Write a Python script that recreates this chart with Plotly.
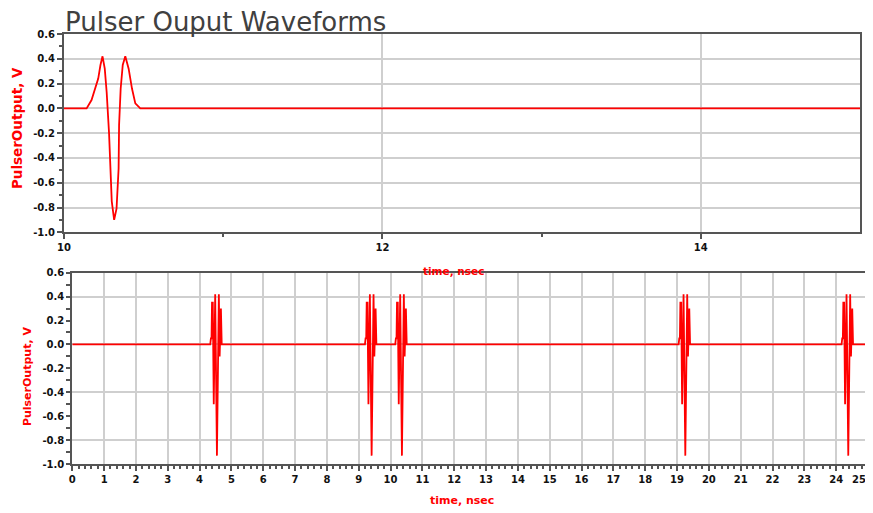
import plotly.graph_objects as go

# ---- data ----
top_time = [10.0, 10.142, 10.173, 10.194, 10.215, 10.229, 10.242, 10.256, 10.268, 10.283,
            10.29, 10.30, 10.315, 10.33, 10.343, 10.346, 10.356, 10.369, 10.385, 10.406,
            10.427, 10.448, 10.479, 15.0]
top_volts = [0.0, 0.0, 0.067, 0.148, 0.24, 0.35, 0.42, 0.32, 0.13, -0.2,
             -0.51, -0.75, -0.90, -0.81, -0.485, -0.135, 0.16, 0.35, 0.42, 0.32,
             0.16, 0.04, 0.0, 0.0]

pulse_centers = [4.545, 9.405, 10.357, 19.26, 24.38]
pulse_offsets = [-0.25, -0.21, -0.19, -0.17, -0.155, -0.13, -0.10, -0.075, -0.055, 0.0,
                 0.04, 0.06, 0.085, 0.11, 0.125, 0.15, 0.2]
pulse_volts = [0.0, 0.0, 0.05, 0.05, 0.35, 0.35, -0.5, 0.42, 0.42, -0.93,
               0.42, 0.42, -0.1, 0.3, 0.3, 0.0, 0.0]

bottom_start, bottom_end = 0.0, 25.0

y_tick_vals = [0.6, 0.4, 0.2, 0.0, -0.2, -0.4, -0.6, -0.8, -1.0]
y_tick_text = ["0.6", "0.4", "0.2", "0.0", "-0.2", "-0.4", "-0.6", "-0.8", "-1.0"]
bottom_y_tick_vals = [0.6, 0.5, 0.4, 0.3, 0.2, 0.1, 0.0, -0.1, -0.2, -0.3, -0.4,
                      -0.5, -0.6, -0.7, -0.8, -0.9, -1.0]
bottom_y_tick_text = ["0.6", "", "0.4", "", "0.2", "", "0.0", "", "-0.2", "", "-0.4",
                      "", "-0.6", "", "-0.8", "", "-1.0"]
bottom_y_grid_vals = [0.4, 0.0, -0.4, -0.8]
top_x_vals = [10, 12, 14]
top_x_text = ["10", "12", "14"]
bottom_x_vals = list(range(0, 26))
bottom_x_text = [str(v) for v in bottom_x_vals]

# build the bottom series from the pulse shape placed at each pulse time
bot_time = [bottom_start]
bot_volts = [0.0]
for c in pulse_centers:
    for o, v in zip(pulse_offsets, pulse_volts):
        bot_time.append(round(c + o, 4))
        bot_volts.append(v)
bot_time.append(bottom_end)
bot_volts.append(0.0)

RED = "#ff0000"
GRID = "#cfcfcf"
BORDER = "#555555"
FONT = "DejaVu Sans"
tickfont = dict(family=FONT, size=10, color="#111111", weight="bold")

fig = go.Figure()
fig.add_trace(go.Scatter(x=top_time, y=top_volts, mode="lines",
                         line=dict(color=RED, width=1.8), xaxis="x", yaxis="y",
                         showlegend=False, hoverinfo="skip"))
fig.add_trace(go.Scatter(x=bot_time, y=bot_volts, mode="lines",
                         line=dict(color=RED, width=1.8), xaxis="x2", yaxis="y2",
                         showlegend=False, hoverinfo="skip"))

# the page body adds an 8px margin; figure coords = page coords - 8
OFF = 8
W, H = 865, 505
L, R, T, B = 64 - OFF, 3, 34 - OFF, 49
pw, ph = W - L - R, H - T - B


def px_x(p):
    return (p - OFF - L) / pw


def px_y(p):
    return (H - B - (p - OFF)) / ph


def axis(**kw):
    base = dict(showline=True, linecolor=BORDER, linewidth=2, mirror=True,
                zeroline=False, tickfont=tickfont, ticks="outside",
                tickcolor=BORDER, ticklen=5, tickwidth=1.5,
                gridcolor=GRID, gridwidth=1.5)
    base.update(kw)
    return base


fig.update_layout(
    width=W, height=H,
    margin=dict(l=L, r=R, t=T, b=B),
    paper_bgcolor="white", plot_bgcolor="white",
    title=dict(text="Pulser Ouput Waveforms", x=(65 - OFF) / W, xref="container",
               xanchor="left", y=1 - (22 - OFF) / H, yref="container", yanchor="middle",
               font=dict(family=FONT, size=26, color="#404040")),
    xaxis=axis(domain=[0, px_x(862)], range=[10, 15], anchor="y",
               tickmode="array", tickvals=top_x_vals, ticktext=top_x_text, showgrid=True,
               minor=dict(tickmode="array", tickvals=[11, 13], ticks="outside", ticklen=3,
                          tickcolor=BORDER, showgrid=False)),
    yaxis=axis(domain=[px_y(232.3), 1], range=[-1.0, 0.6], anchor="x",
               tickmode="array", tickvals=y_tick_vals, ticktext=y_tick_text, showgrid=True,
               minor=dict(dtick=0.1, tick0=0, ticks="outside", ticklen=3,
                          tickcolor=BORDER, showgrid=False)),
    xaxis2=axis(domain=[px_x(72.3), 1], range=[0, 25], anchor="y2",
                tickmode="array", tickvals=bottom_x_vals, ticktext=bottom_x_text,
                showgrid=True,
                minor=dict(dtick=0.2, tick0=0, ticks="outside", ticklen=3,
                           tickcolor=BORDER, showgrid=False)),
    yaxis2=axis(domain=[0, px_y(272.7)], range=[-1.0, 0.6], anchor="x2",
                tickmode="array", tickvals=bottom_y_tick_vals, ticktext=bottom_y_tick_text,
                showgrid=False, ticklen=4,
                minor=dict(tickmode="array", tickvals=bottom_y_grid_vals, ticks="",
                           showgrid=True, gridcolor=GRID, gridwidth=1.5)),
)

title_font_small = dict(family=FONT, color=RED, weight="bold")
ann = dict(xref="paper", yref="paper", showarrow=False, xanchor="center", yanchor="middle")
fig.add_annotation(text="PulserOutput, V", x=px_x(17), y=px_y(128), textangle=-90,
                   font=dict(title_font_small, size=13.5), **ann)
fig.add_annotation(text="PulserOutput, V", x=px_x(27), y=px_y(376), textangle=-90,
                   font=dict(title_font_small, size=11), **ann)
fig.add_annotation(text="time, nsec", x=px_x(454), y=px_y(271),
                   font=dict(title_font_small, size=10.5), **ann)
fig.add_annotation(text="time, nsec", x=px_x(463), y=px_y(500),
                   font=dict(title_font_small, size=11), **ann)
# last bottom tick label sits at the page edge; keep it fully inside
fig.add_annotation(text=bottom_x_text[-1], xref="x2", x=bottom_x_vals[-1],
                   yref="paper", y=px_y(479), showarrow=False,
                   xanchor="right", yanchor="middle", font=tickfont)

fig.write_html("out.html")
